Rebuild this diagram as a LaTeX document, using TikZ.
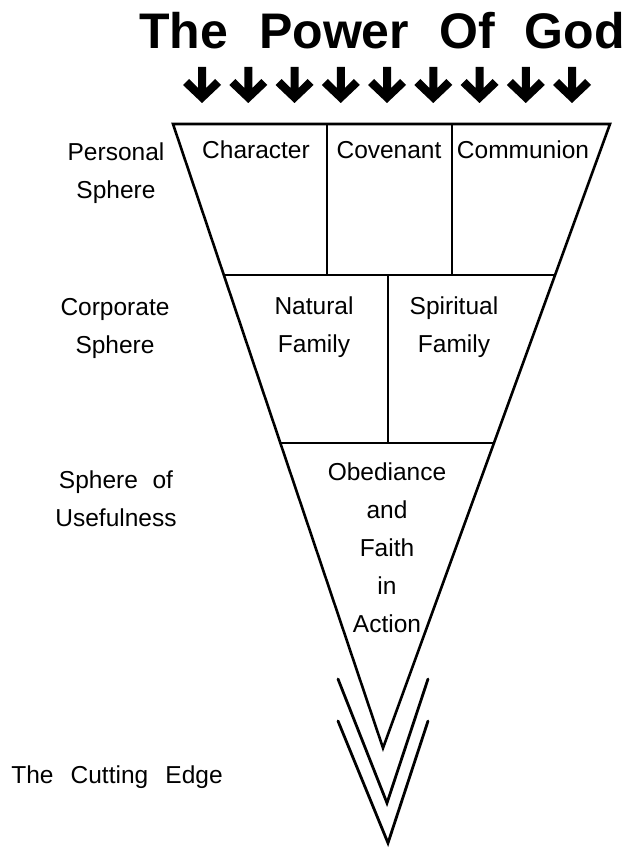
\documentclass[tikz,border=0pt]{standalone}
\usepackage{fontspec}
\setmainfont{Liberation Sans}
\usetikzlibrary{calc}

\begin{document}
\begin{tikzpicture}[x=1pt,y=-1pt,
        outline/.style = {line width=2.6pt, line join=miter},
        chevron/.style = {line width=2.8pt, line cap=round, line join=miter}]
    \useasboundingbox (0,0) rectangle (630,848);

    % title and the rain of arrows
    \node[font=\bfseries\fontsize{50}{60}\selectfont, inner sep=0pt] (title) at (382,31)
        {The\hspace{0.62em}Power\hspace{0.6em}Of\hspace{0.6em}God};
    \foreach \i in {0,...,8} {
        \pgfmathsetmacro\ax{202+46.25*\i}
        \fill[shift={(\ax,0)}] (-4,67) -- (4,67) -- (4,88) -- (13,79) -- (19,85)
            -- (0,103) -- (-19,85) -- (-13,79) -- (-4,88) -- cycle;
    }

    % the funnel
    \coordinate (tl) at (173,124);
    \coordinate (tr) at (610,124);
    \coordinate (apex) at (383,748);
    \coordinate (l1) at ($(tl)!0.242!(apex)$);
    \coordinate (r1) at ($(tr)!0.242!(apex)$);
    \coordinate (l2) at ($(tl)!0.511!(apex)$);
    \coordinate (r2) at ($(tr)!0.511!(apex)$);
    \draw[outline] (tl) -- (tr) -- (apex) -- cycle;
    \draw[outline] (l1) -- (r1);
    \draw[outline] (l2) -- (r2);
    \draw[outline] (327,124) -- (327,275);
    \draw[outline] (452,124) -- (452,275);
    \draw[outline] (388,275) -- (388,443);

    % cutting edge
    \draw[chevron] (338,679) -- (387,803) -- (428,679);
    \draw[chevron] (338,721) -- (388,843) -- (428,721);

    \begin{scope}[every node/.style = {anchor=north, inner sep=0pt, align=center,
                                       font=\fontsize{24.5}{38}\selectfont}]
        % spheres on the left
        \node (personal)  at (116,143) {Personal\\Sphere};
        \node (corporate) at (115,298) {Corporate\\Sphere};
        \node (useful)    at (116,471) {Sphere\hspace{0.6em}of\\Usefulness};
        \node (cutting)   at (117,766) {The\hspace{0.7em}Cutting\hspace{0.7em}Edge};

        % inside the funnel
        \node (character) at (256,141) {Character};
        \node (covenant)  at (389,141) {Covenant};
        \node (communion) at (523,141) {Communion};
        \node (natural)   at (314,297) {Natural\\Family};
        \node (spiritual) at (454,297) {Spiritual\\Family};
        \node (obey)      at (387,463) {Obediance\\and\\Faith\\in\\Action};
    \end{scope}
\end{tikzpicture}
\end{document}
